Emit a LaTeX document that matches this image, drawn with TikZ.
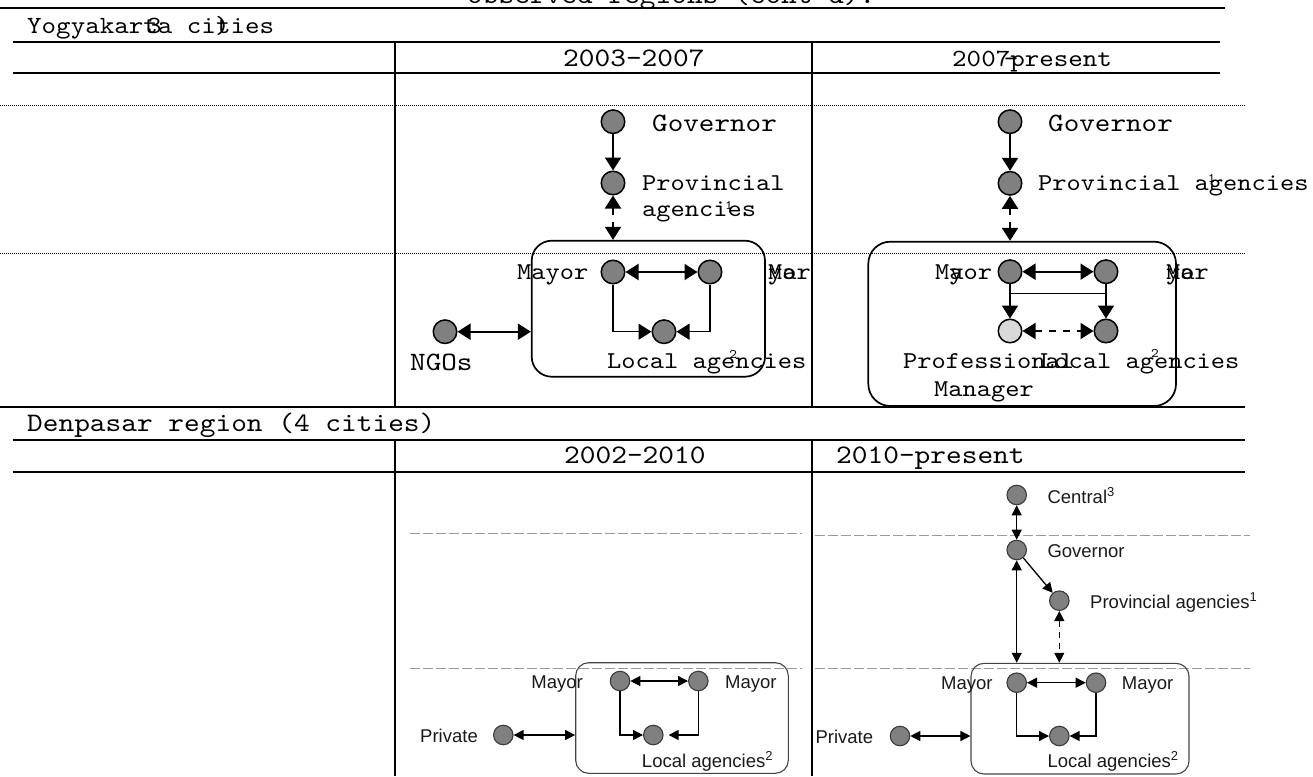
\documentclass[tikz,border=0pt]{standalone}
\usepackage{fontspec}
\newfontfamily\arialf{Liberation Sans}
\newfontfamily\cmono{lmmono10-regular.otf}[FakeStretch=1.12]
\usetikzlibrary{arrows.meta}
\definecolor{ngray}{HTML}{808080}
\definecolor{lgray}{HTML}{D9D9D9}
\definecolor{dtext}{HTML}{1A1A1A}
\definecolor{dbord}{HTML}{3A3A3A}
\definecolor{bxgray}{HTML}{444444}
\definecolor{dashg}{HTML}{9A9A9A}
\tikzset{
  bt/.tip={Triangle[length=13pt,width=16pt]},
  st/.tip={Triangle[length=10pt,width=10pt]},
}
\begin{document}
\begin{tikzpicture}[x=1pt,y=-1pt,
  hd/.style={font=\fontsize{26.7}{28}\cmono, inner sep=0pt},
  hs/.style={font=\fontsize{24.7}{26}\cmono, inner sep=0pt},
  tx/.style={font=\fontsize{24.2}{26}\cmono, inner sep=0pt},
  txs/.style={font=\fontsize{26.5}{28}\cmono, inner sep=0pt},
  sp/.style={font=\fontsize{13}{14}\cmono, inner sep=0pt},
  ar/.style={font=\fontsize{18.5}{20}\arialf, text=dtext, inner sep=0pt},
  yn/.style={circle, draw=black, line width=1.5pt, fill=ngray, minimum size=23.5pt, inner sep=0pt},
  pmn/.style={yn, fill=lgray},
  dn/.style={circle, draw=dbord, line width=1.1pt, fill=ngray, minimum size=19.5pt, inner sep=0pt},
  ybox/.style={draw=black, line width=1.7pt, rounded corners=20pt, inner sep=0pt},
  dbox/.style={draw=bxgray, line width=1.1pt, rounded corners=13pt, inner sep=0pt},
  tl/.style={line width=2pt},
  dotl/.style={line width=0.6pt, dash pattern=on 1pt off 1pt},
  dgl/.style={line width=1pt, draw=dashg, dash pattern=on 10pt off 3pt},
  yarr/.style={line width=2pt, -bt},
  ybi/.style={line width=2pt, bt-bt},
  ydsh/.style={line width=2pt, bt-bt, dash pattern=on 7pt off 7pt},
  ythin/.style={line width=1.3pt, -bt},
  darr/.style={line width=1.3pt, -st},
  dbi/.style={line width=1.3pt, st-st},
  ddsh/.style={line width=1.3pt, st-st, dash pattern=on 6pt off 5pt},
]
\useasboundingbox (0,0) rectangle (1313,776);
\clip (0,0) rectangle (1313,776);
\fill[white] (0,0) rectangle (1313,776);

% ---------------- title (clipped) and table frame, top part
\node[hd, anchor=base west] (title) at (467,4) {observed regions (cont'd).};
\coordinate (t1a) at (0,8.3);   \coordinate (t1b) at (1225,8.3);
\coordinate (t2a) at (12.6,41.7); \coordinate (t2b) at (1220,41.7);
\coordinate (t3a) at (12.6,73.3); \coordinate (t3b) at (1220,73.3);
\coordinate (d1a) at (0,105); \coordinate (d1b) at (1246,105);
\coordinate (d2a) at (0,253); \coordinate (d2b) at (1246,253);
\coordinate (t4a) at (0,407); \coordinate (t4b) at (1245,407);
\coordinate (v1a) at (395,41.7); \coordinate (v1b) at (395,407);
\coordinate (v2a) at (812,41.7); \coordinate (v2b) at (812,407);
\draw[tl] (t1a) -- (t1b);
\draw[tl] (t2a) -- (t2b);
\draw[tl] (t3a) -- (t3b);
\draw[dotl] (d1a) -- (d1b);
\draw[dotl] (d2a) -- (d2b);
\draw[tl, line width=2.5pt] (t4a) -- (t4b);
\draw[tl] (v1a) -- (v1b);
\draw[tl] (v2a) -- (v2b);

\node[hs, anchor=base west] (yog) at (27,34) {Yogyakarta cities};
\node[hs, anchor=base west] (yog3) at (147,34) {3};
\node[hs, anchor=base west] (yogp) at (215,34) {)};
\node[hd, anchor=base west] (h1) at (563,66.7) {2003–2007};
\node[hs, anchor=base west] (h2) at (952,66.7) {2007present};
\node[hs, anchor=base] (h2d) at (1011,66.7) {–};

% ---------------- Yogyakarta 2003-2007
\node[ybox, minimum width=233.3pt, minimum height=136pt] (b1) at (648.35,308.7) {};
\node[yn] (g1) at (613,121.7) {};
\node[txs, anchor=base west] (g1t) at (652,131.7) {Governor};
\node[yn] (p1) at (613,183) {};
\node[tx, anchor=base west] (p1t) at (642,190) {Provincial};
\node[tx, anchor=base west] (p1u) at (642,216.7) {agencies};
\node[sp] (p1s) at (729,205) {1};
\node[yn] (m1) at (613,272) {};
\node[yn] (m2) at (710,272) {};
\node[tx, anchor=base west] (m1t) at (517,279) {Mayor};
\node[tx, anchor=base west] (m2t) at (768,279) {Mar};
\node[tx, anchor=base west] (m2u) at (768,279) {yo};
\node[yn] (l1) at (664,331.7) {};
\node[tx, anchor=base west] (l1t) at (607,368) {Local agencies};
\node[sp] (l1s) at (733.3,354) {2};
\node[yn] (ngo) at (445,331.7) {};
\node[txs, anchor=base west] (ngot) at (410,370.7) {NGOs};

\draw[yarr] (g1) -- (p1);
\draw[ydsh] (p1) -- (p1 |- b1.north);
\draw[ybi] (m1) -- (m2);
\draw[ythin] (m1.south) |- (l1.west);
\draw[ythin] (m2.south) |- (l1.east);
\draw[ybi] (ngo) -- (ngo -| b1.west);

% ---------------- Yogyakarta 2007-present
\node[ybox, rounded corners=22pt, minimum width=307.7pt, minimum height=164.3pt] (b2) at (1022.15,323.85) {};
\node[yn] (g2) at (1010,121.7) {};
\node[txs, anchor=base west] (g2t) at (1048,131.7) {Governor};
\node[yn] (p2) at (1010,183.3) {};
\node[tx, anchor=base west] (p2t) at (1038,190) {Provincial agencies};
\node[sp] (p2s) at (1211.7,178.3) {1};
\node[yn] (m3) at (1010,271.7) {};
\node[yn] (m4) at (1106,271.7) {};
\node[tx, anchor=base west] (m3t) at (935,279) {Myor};
\node[tx, anchor=base west] (m3u) at (949.2,279) {a};
\node[tx, anchor=base west] (m4t) at (1166,279) {Mar};
\node[tx, anchor=base west] (m4u) at (1166,279) {yo};
\node[pmn] (pm) at (1010,331) {};
\node[yn] (l2) at (1106,331) {};
\node[tx, anchor=base west] (pmt) at (903,368) {Professional};
\node[tx, anchor=base west] (pmu) at (934,396) {Manager};
\node[tx, anchor=base west] (l2t) at (1040,368) {Local agencies};
\node[sp] (l2s) at (1155,353.3) {2};
\coordinate (hb1) at (1010,293.3);
\coordinate (hb2) at (1106,293.3);

\draw[yarr] (g2) -- (p2);
\draw[ydsh] (p2) -- (p2 |- b2.north);
\draw[ybi] (m3) -- (m4);
\draw[yarr] (m3) -- (pm);
\draw[yarr] (m4) -- (l2);
\draw[line width=1.3pt] (hb1) -- (hb2);
\draw[ydsh] (pm) -- (l2);

% ---------------- Denpasar table part
\coordinate (u1a) at (12.6,440); \coordinate (u1b) at (1245,440);
\coordinate (u2a) at (12.6,472); \coordinate (u2b) at (1245,472);
\coordinate (w1a) at (395,440); \coordinate (w1b) at (395,776);
\coordinate (w2a) at (812,440); \coordinate (w2b) at (812,776);
\coordinate (e1a) at (410,533.3); \coordinate (e1b) at (801.7,533.3);
\coordinate (e2a) at (410,668.3); \coordinate (e2b) at (801.7,668.3);
\coordinate (e3a) at (815,535); \coordinate (e3b) at (1250,535);
\coordinate (e4a) at (815,668.3); \coordinate (e4b) at (1250,668.3);
\draw[tl] (u1a) -- (u1b);
\draw[tl] (u2a) -- (u2b);
\draw[tl] (w1a) -- (w1b);
\draw[tl] (w2a) -- (w2b);
\draw[dgl] (e1a) -- (e1b);
\draw[dgl] (e2a) -- (e2b);
\draw[dgl] (e3a) -- (e3b);
\draw[dgl] (e4a) -- (e4b);

\node[hd, anchor=base west] (den) at (27,431) {Denpasar region (4 cities)};
\node[hd, anchor=base west] (h3) at (564,463) {2002–2010};
\node[hd, anchor=base west] (h4) at (836,463) {2010–present};

% ---------------- Denpasar 2002-2010
\node[dbox, minimum width=212.6pt, minimum height=110.6pt] (b3) at (682,718) {};
\node[dn] (m5) at (620,681) {};
\node[dn] (m6) at (698.3,681) {};
\node[ar, anchor=base east] (m5t) at (583,688) {Mayor};
\node[ar, anchor=base west] (m6t) at (725,688) {Mayor};
\node[dn] (l3) at (653.3,735) {};
\node[ar, anchor=base east] (l3t) at (773.3,767) {Local agencies\textsuperscript{2}};
\node[dn] (pr1) at (503.3,735) {};
\node[ar, anchor=base east] (pr1t) at (478,742) {Private};

\draw[dbi] (m5) -- (m6);
\draw[darr] (m5.south) |- (l3.west);
\draw[darr, shorten >=5pt] (m6.south) |- (l3.east);
\draw[dbi] (pr1) -- (pr1 -| b3.west);

% ---------------- Denpasar 2010-present
\node[dbox, minimum width=218pt, minimum height=110.7pt] (b4) at (1080,718.65) {};
\node[dn] (c1) at (1016.7,495) {};
\node[ar, anchor=base west] (c1t) at (1047.3,503) {Central\textsuperscript{3}};
\node[dn] (g3) at (1016.7,550) {};
\node[ar, anchor=base west] (g3t) at (1047.3,557) {Governor};
\node[dn] (p3) at (1059.3,600.7) {};
\node[ar, anchor=base west] (p3t) at (1090,608) {Provincial agencies\textsuperscript{1}};
\node[dn] (m7) at (1016.7,682.7) {};
\node[dn] (m8) at (1096,682.7) {};
\node[ar, anchor=base east] (m7t) at (992.7,689) {Mayor};
\node[ar, anchor=base west] (m8t) at (1121.7,689) {Mayor};
\node[dn] (l4) at (1059.3,736) {};
\node[ar, anchor=base west] (l4t) at (1047.3,767) {Local agencies\textsuperscript{2}};
\node[dn] (pr2) at (900,736) {};
\node[ar, anchor=base east] (pr2t) at (873.3,743) {Private};

\draw[dbi] (c1) -- (g3);
\draw[darr] (g3) -- (p3);
\draw[dbi] (g3) -- (g3 |- b4.north);
\draw[ddsh] (p3) -- (p3 |- b4.north);
\draw[dbi] (m7) -- (m8);
\draw[darr] (m7.south) |- (l4.west);
\draw[darr] (m8.south) |- (l4.east);
\draw[dbi] (pr2) -- (pr2 -| b4.west);
\end{tikzpicture}
\end{document}
